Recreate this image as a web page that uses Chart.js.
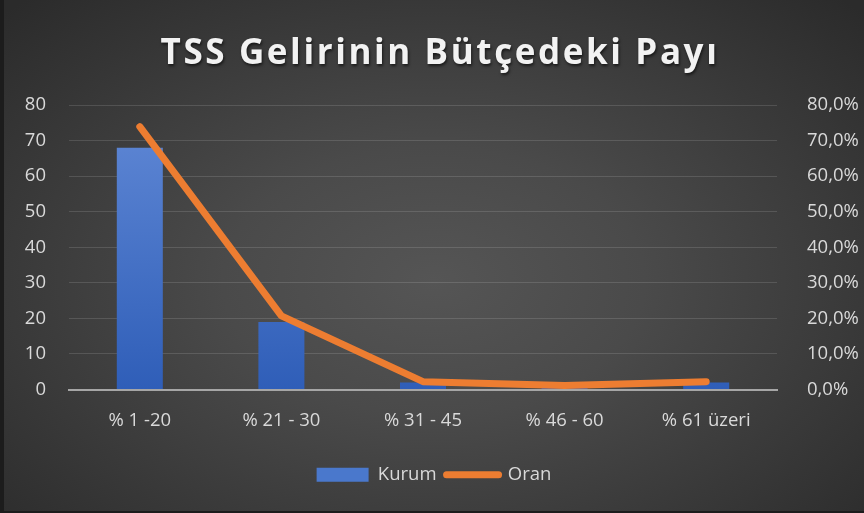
<!DOCTYPE html>
<html>
<head>
<meta charset="utf-8">
<script src="https://cdn.jsdelivr.net/npm/chart.js@4"></script>
<style>
  html, body { margin: 0; padding: 0; background: #1c1c1c; }
  #wrap {
    position: absolute; left: 4px; top: 0; width: 860px; height: 511px;
    background: radial-gradient(ellipse 70% 75% at 50% 55%, #555555 0%, #4a4a4a 35%, #2b2b2b 100%);
  }
  #title {
    position: absolute; left: 6px; top: 27px; width: 860px; text-align: center;
    font-family: "Open Sans", sans-serif; font-weight: 700; font-size: 35px;
    letter-spacing: 2.6px; color: #f2f2f2;
    text-shadow: 1px 2px 3px rgba(0,0,0,0.6);
  }
  canvas { position: absolute; left: 0; top: 0; }
</style>
</head>
<body>
<div id="wrap">
  <canvas id="chart" width="860" height="511"></canvas>
  <div id="title">TSS Gelirinin Bütçedeki Payı</div>
</div>
<script>
// chart data
var categories = ["% 1 -20", "% 21 - 30", "% 31 - 45", "% 46 - 60", "% 61 üzeri"];
var kurum = [68, 19, 2, 1, 2];
var oran = [73.9, 20.7, 2.2, 1.1, 2.2];

var tickColor = "#d9d9d9";
var tickFont = { family: "Open Sans", size: 18.5 };

function barGradient(context) {
  var chart = context.chart;
  var area = chart.chartArea;
  if (!area) return "#4472c4";
  var g = chart.ctx.createLinearGradient(0, area.top, 0, area.bottom);
  g.addColorStop(0, "#6189d6");
  g.addColorStop(1, "#2f5eb8");
  return g;
}

var ctx = document.getElementById("chart").getContext("2d");
var myChart = new Chart(ctx, {
  type: "bar",
  data: {
    labels: categories,
    datasets: [
      {
        type: "bar",
        label: "Kurum",
        data: kurum,
        yAxisID: "y",
        backgroundColor: barGradient,
        barPercentage: 0.325,
        categoryPercentage: 1,
        order: 1,
      },
      {
        type: "line",
        label: "Oran",
        data: oran,
        yAxisID: "y1",
        borderColor: "#ed7d31",
        borderWidth: 7,
        borderCapStyle: "round",
        borderJoinStyle: "round",
        pointRadius: 0,
        tension: 0,
        order: 0,
      },
    ],
  },
  options: {
    responsive: false,
    animation: false,
    layout: { padding: { top: 105, left: 0, right: 0, bottom: 17 } },
    plugins: {
      tooltip: { enabled: false },
      legend: {
        position: "bottom",
        labels: {
          color: tickColor,
          font: tickFont,
          padding: 10,
          usePointStyle: true,
          pointStyleWidth: 52,
          boxHeight: 14,
          generateLabels: function (chart) {
            return [
              { text: "Kurum", fillStyle: "#4a78cc", strokeStyle: "#4a78cc", lineWidth: 0, pointStyle: "rect", datasetIndex: 0, fontColor: tickColor },
              { text: "Oran", fillStyle: "#ed7d31", strokeStyle: "#ed7d31", lineWidth: 7, lineCap: "round", pointStyle: "line", datasetIndex: 1, fontColor: tickColor },
            ];
          },
        },
      },
    },
    scales: {
      x: {
        grid: { display: false },
        border: { color: "#a6a6a6", width: 2 },
        ticks: { color: tickColor, font: tickFont, padding: 12 },
        afterFit: function (s) { s.height = 66; },
      },
      y: {
        position: "left",
        min: 0,
        max: 80,
        ticks: { stepSize: 10, color: tickColor, font: tickFont, padding: 23 },
        grid: { color: "rgba(255,255,255,0.13)", drawTicks: false },
        border: { display: false },
        afterFit: function (s) { s.width = 65; },
      },
      y1: {
        position: "right",
        min: 0,
        max: 80,
        ticks: {
          stepSize: 10, color: tickColor, font: tickFont, padding: 22,
          callback: function (v) { return v.toFixed(1).replace(".", ",") + "%"; },
        },
        grid: { display: false },
        border: { display: false },
        afterFit: function (s) { s.width = 87; },
      },
    },
  },
});
</script>
</body>
</html>
